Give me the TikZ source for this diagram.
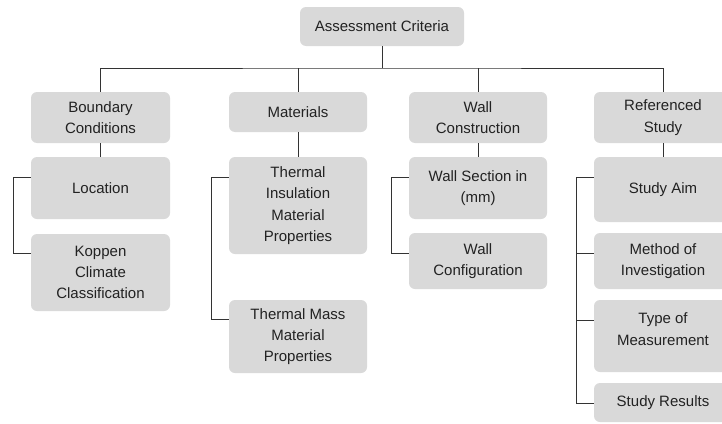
\documentclass[tikz,border=0pt]{standalone}
\usepackage{fontspec}
\setmainfont{Liberation Sans}
\usetikzlibrary{calc}
\definecolor{boxfill}{HTML}{D9D9D9}
\definecolor{linecol}{HTML}{333333}
\definecolor{txtcol}{HTML}{222222}
\begin{document}
\begin{tikzpicture}[x=1pt,y=-1pt,
  box/.style={fill=boxfill,draw=none,rounded corners=6pt,align=center,inner sep=0pt,
    font=\fontsize{15}{21.3}\selectfont,text=txtcol},
  conn/.style={draw=linecol,line width=0.9pt}]
\clip (0,0) rectangle (722,423);
\fill[white] (0,0) rectangle (722,423);
% root
\node[box,minimum width=164pt,minimum height=39pt] (root) at (382,26.5) {Assessment Criteria};
% level 1
\node[box,minimum width=139pt,minimum height=51pt] (bc) at (100.5,117.5) {Boundary\\Conditions};
\node[box,minimum width=138pt,minimum height=40pt] (mat) at (298,112) {Materials};
\node[box,minimum width=138pt,minimum height=51pt] (wc) at (478,117.5) {Wall\\Construction};
\node[box,minimum width=138pt,minimum height=51pt] (rs) at (663,117.5) {Referenced\\Study};
% level 2
\node[box,minimum width=139pt,minimum height=62pt] (loc) at (100.5,188) {Location};
\node[box,minimum width=139pt,minimum height=77pt] (kop) at (100.5,272.5) {Koppen\\Climate\\Classification};
\node[box,minimum width=138pt,minimum height=97pt] (ti) at (298,205.5) {Thermal\\Insulation\\Material\\Properties};
\node[box,minimum width=138pt,minimum height=73pt] (tm) at (298,336.5) {Thermal Mass\\Material\\Properties};
\node[box,minimum width=138pt,minimum height=62pt] (ws) at (478,188) {Wall Section in\\(mm)};
\node[box,minimum width=138pt,minimum height=56pt] (wcf) at (478,261) {Wall\\Configuration};
\node[box,minimum width=138pt,minimum height=65pt] (sa) at (663,189.5) {Study Aim};
\node[box,minimum width=138pt,minimum height=56pt] (mi) at (663,261) {Method of\\Investigation};
\node[box,minimum width=138pt,minimum height=72pt,text depth=14pt] (tom) at (663,336) {Type of\\Measurement};
\node[box,minimum width=138pt,minimum height=39pt] (sr) at (663,402.5) {Study Results};
% root connectors
\coordinate (hub) at (382,68);
\draw[conn] (root.south) -- (hub);
\draw[conn] (bc.north) |- (hub) -| (rs.north);
\draw[conn] (mat.north) -- (mat.north |- hub);
\draw[conn] (wc.north) -- (wc.north |- hub);
% parent to first child
\draw[conn] (bc.south) -- (loc.north);
\draw[conn] (mat.south) -- (ti.north);
\draw[conn] (wc.south) -- (ws.north);
\draw[conn] (rs.south) -- (sa.north);
% brackets
\draw[conn] ($(loc.north west)+(0,21)$) -- ++(-17,0) |- ($(kop.north west)+(0,20)$);
\draw[conn] ($(ti.north west)+(0,21)$) -- ++(-17,0) |- ($(tm.north west)+(0,20)$);
\draw[conn] ($(ws.north west)+(0,21)$) -- ++(-17,0) |- ($(wcf.north west)+(0,21)$);
\draw[conn] ($(sa.north west)+(0,21)$) -- ++(-17,0) |- ($(sr.north west)+(0,21)$);
\draw[conn] ($(mi.north west)+(0,21)$) -- ++(-17,0);
\draw[conn] ($(tom.north west)+(0,21)$) -- ++(-17,0);
\end{tikzpicture}
\end{document}
